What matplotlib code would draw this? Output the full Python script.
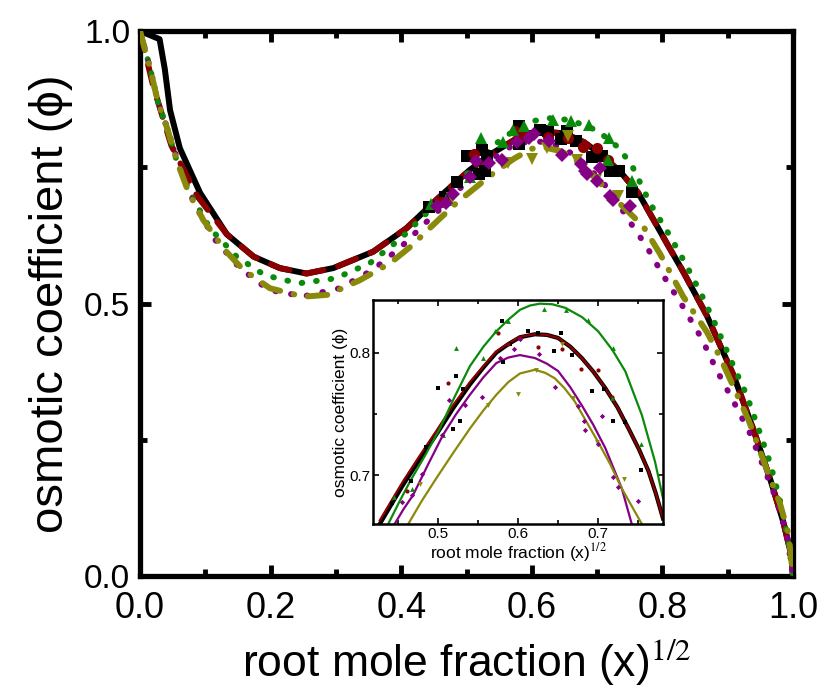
import matplotlib
matplotlib.use("Agg")
import matplotlib.pyplot as plt

plt.rcParams['font.family'] = ['Liberation Sans', 'DejaVu Sans']
plt.rcParams['mathtext.fontset'] = 'stix'
plt.rcParams['lines.scale_dashes'] = False

# ---- main curves ----
black_x = [0, 0.03, 0.038, 0.046, 0.061, 0.092, 0.133, 0.174, 0.214, 0.255, 0.296, 0.357, 0.408,
           0.459, 0.505, 0.54, 0.573, 0.60, 0.621, 0.65, 0.68, 0.709, 0.738, 0.763, 0.807, 0.832,
           0.868, 0.909, 0.939, 0.965, 0.985, 0.998, 1.0]
black_y = [1.0, 0.985, 0.93, 0.855, 0.785, 0.703, 0.627, 0.586, 0.565, 0.555, 0.565, 0.595, 0.638,
           0.696, 0.745, 0.776, 0.800, 0.812, 0.815, 0.812, 0.796, 0.771, 0.738, 0.703, 0.610, 0.558,
           0.478, 0.368, 0.270, 0.178, 0.100, 0.035, 0.0]

red_x = [0, 0.02, 0.048, 0.087, 0.133, 0.174, 0.214, 0.255, 0.296, 0.357, 0.408,
         0.459, 0.505, 0.54, 0.573, 0.60, 0.621, 0.65, 0.68, 0.709, 0.738, 0.763, 0.807, 0.832,
         0.868, 0.909, 0.939, 0.965, 0.985, 0.998, 1.0]
red_y = [1.0, 0.90, 0.79, 0.698, 0.627, 0.586, 0.565, 0.555, 0.565, 0.595, 0.638,
         0.696, 0.745, 0.776, 0.800, 0.812, 0.815, 0.812, 0.796, 0.771, 0.738, 0.703, 0.610, 0.558,
         0.478, 0.368, 0.270, 0.178, 0.100, 0.035, 0.0]

green_x = [0, 0.015, 0.028, 0.041, 0.056, 0.077, 0.107, 0.148, 0.191, 0.243, 0.299, 0.352, 0.40,
           0.439, 0.47, 0.50, 0.54, 0.573, 0.603, 0.628, 0.659, 0.70, 0.734, 0.755, 0.781, 0.809,
           0.835, 0.86, 0.883, 0.906, 0.929, 0.947, 0.965, 0.98, 0.992, 1.0]
green_y = [1.0, 0.934, 0.867, 0.824, 0.763, 0.702, 0.638, 0.586, 0.552, 0.537, 0.546, 0.574, 0.62,
           0.666, 0.70, 0.737, 0.789, 0.8175, 0.835, 0.840, 0.8366, 0.8175, 0.785, 0.749, 0.684, 0.629,
           0.574, 0.516, 0.457, 0.393, 0.332, 0.271, 0.207, 0.139, 0.07, 0.0]

purple_x = [0, 0.015, 0.028, 0.041, 0.064, 0.084, 0.115, 0.153, 0.197, 0.25, 0.306, 0.357, 0.40,
            0.439, 0.469, 0.507, 0.54, 0.573, 0.60, 0.621, 0.65, 0.68, 0.709, 0.73, 0.745, 0.776,
            0.801, 0.83, 0.86, 0.883, 0.909, 0.934, 0.955, 0.975, 0.991, 1.0]
purple_y = [1.0, 0.934, 0.867, 0.824, 0.739, 0.681, 0.617, 0.565, 0.525, 0.513, 0.528, 0.562, 0.604,
            0.650, 0.684, 0.733, 0.766, 0.792, 0.798, 0.796, 0.785, 0.757, 0.722, 0.689, 0.659, 0.604,
            0.552, 0.497, 0.436, 0.378, 0.32, 0.262, 0.20, 0.139, 0.072, 0.0]

olive_x = [0, 0.015, 0.028, 0.041, 0.056, 0.074, 0.097, 0.13, 0.158, 0.199, 0.25, 0.288, 0.337,
           0.383, 0.414, 0.454, 0.485, 0.54, 0.573, 0.60, 0.621, 0.646, 0.671, 0.70, 0.73, 0.755,
           0.771, 0.796, 0.832, 0.868, 0.888, 0.909, 0.932, 0.96, 0.98, 0.993, 0.998, 1.0]
olive_y = [1.0, 0.934, 0.867, 0.824, 0.763, 0.705, 0.653, 0.598, 0.562, 0.528, 0.5125, 0.516, 0.543,
           0.574, 0.604, 0.650, 0.685, 0.738, 0.766, 0.784, 0.786, 0.779, 0.760, 0.727, 0.689, 0.66,
           0.641, 0.592, 0.5125, 0.448, 0.402, 0.347, 0.286, 0.195, 0.133, 0.078, 0.024, 0.0]

# ---- inset fits ----
ins_black_x = [0.4275, 0.442, 0.4566, 0.477, 0.498, 0.519, 0.54, 0.557, 0.573, 0.588, 0.6025, 0.621,
               0.636, 0.65, 0.665, 0.6796, 0.694, 0.709, 0.724, 0.738, 0.751, 0.763, 0.772, 0.781]
ins_black_y = [0.660, 0.676, 0.692, 0.7125, 0.733, 0.7545, 0.774, 0.788, 0.800, 0.807, 0.8126, 0.815,
               0.8145, 0.812, 0.805, 0.7956, 0.7845, 0.771, 0.7555, 0.738, 0.721, 0.703, 0.685, 0.6645]
ins_red_y = [0.663, 0.679, 0.695, 0.7155, 0.736, 0.757, 0.776, 0.789, 0.801, 0.8075, 0.8130, 0.815,
             0.8145, 0.812, 0.805, 0.7956, 0.7845, 0.771, 0.7555, 0.738, 0.721, 0.703, 0.685, 0.6645]

ins_green_x = [0.438, 0.451, 0.465, 0.484, 0.5025, 0.521, 0.54, 0.557, 0.573, 0.588, 0.6025, 0.615,
               0.6275, 0.643, 0.659, 0.68, 0.70, 0.718, 0.734, 0.7546, 0.771, 0.781]
ins_green_y = [0.660, 0.677, 0.6945, 0.716, 0.738, 0.764, 0.789, 0.805, 0.8175, 0.827, 0.835, 0.8385,
               0.840, 0.8395, 0.8366, 0.829, 0.8175, 0.802, 0.7847, 0.749, 0.711, 0.681]

ins_purple_x = [0.446, 0.457, 0.469, 0.488, 0.5066, 0.523, 0.54, 0.557, 0.573, 0.588, 0.6025, 0.621,
                0.636, 0.65, 0.665, 0.6796, 0.694, 0.709, 0.7296, 0.742]
ins_purple_y = [0.66, 0.672, 0.6836, 0.709, 0.733, 0.750, 0.7656, 0.780, 0.7915, 0.796, 0.798, 0.7956,
                0.791, 0.785, 0.772, 0.757, 0.741, 0.722, 0.689, 0.66]

ins_olive_x = [0.463, 0.48, 0.498, 0.519, 0.54, 0.557, 0.573, 0.588, 0.6025, 0.621, 0.634, 0.646,
               0.658, 0.671, 0.685, 0.70, 0.715, 0.7296, 0.7546]
ins_olive_y = [0.66, 0.679, 0.6973, 0.718, 0.738, 0.753, 0.7656, 0.776, 0.783, 0.786, 0.7835, 0.779,
               0.771, 0.760, 0.744, 0.727, 0.709, 0.689, 0.66]

# ---- measured points ----
sq_x = [0.443, 0.467, 0.485, 0.500, 0.519, 0.523, 0.528, 0.531, 0.580, 0.581, 0.590, 0.612, 0.625,
        0.645, 0.654, 0.667, 0.692, 0.707, 0.719, 0.734, 0.753]
sq_y = [0.677, 0.695, 0.723, 0.771, 0.738, 0.781, 0.744, 0.770, 0.826, 0.792, 0.807, 0.818, 0.816,
        0.801, 0.816, 0.798, 0.769, 0.770, 0.744, 0.743, 0.704]
circ_x = [0.461, 0.512, 0.575, 0.588, 0.625, 0.655, 0.679, 0.700, 0.717]
circ_y = [0.687, 0.775, 0.816, 0.807, 0.805, 0.803, 0.787, 0.786, 0.764]
tri_x = [0.445, 0.468, 0.506, 0.5225, 0.556, 0.571, 0.588, 0.632, 0.660, 0.687, 0.718, 0.717, 0.753]
tri_y = [0.682, 0.689, 0.733, 0.804, 0.796, 0.818, 0.826, 0.836, 0.835, 0.827, 0.804, 0.763, 0.725]
dia_x = [0.455, 0.468, 0.480, 0.505, 0.514, 0.534, 0.555, 0.577, 0.595, 0.603, 0.626, 0.646, 0.675,
         0.682, 0.684, 0.700, 0.705, 0.719, 0.725, 0.750]
dia_y = [0.678, 0.684, 0.701, 0.733, 0.761, 0.757, 0.764, 0.796, 0.803, 0.811, 0.799, 0.772, 0.756,
         0.744, 0.737, 0.725, 0.748, 0.698, 0.690, 0.679]
dtri_x = [0.478, 0.563, 0.600, 0.623, 0.655, 0.669, 0.698, 0.732]
dtri_y = [0.693, 0.757, 0.766, 0.786, 0.807, 0.763, 0.727, 0.697]

BLACK = '#000000'
RED = '#8b0000'
GREEN = '#0a8a0a'
PURPLE = '#850085'
OLIVE = '#8a8a0a'

fig = plt.figure(figsize=(8.21, 6.98), dpi=100)
ax = fig.add_axes([140/821, 122/698, 653/821, 545/698])

lw = 4.3
ax.plot(black_x, black_y, color=BLACK, lw=lw, solid_capstyle='round', zorder=2)
ax.plot(red_x, red_y, color=RED, lw=lw, dashes=(14, 11), dash_capstyle='round', zorder=3)
ax.plot(green_x, green_y, color=GREEN, lw=lw, dashes=(0.5, 10), dash_capstyle='round', zorder=3)
ax.plot(purple_x, purple_y, color=PURPLE, lw=lw, dashes=(0.5, 11), dash_capstyle='round', zorder=3)
ax.plot(olive_x, olive_y, color=OLIVE, lw=lw, dashes=(14, 10, 0.5, 10), dash_capstyle='round', zorder=3)

ms = 8
ax.plot(sq_x, sq_y, 's', color=BLACK, ms=ms, mew=0, zorder=4)
ax.plot(circ_x, circ_y, 'o', color=RED, ms=ms, mew=0, zorder=4)
ax.plot(tri_x, tri_y, '^', color=GREEN, ms=ms + 1, mew=0, zorder=4)
ax.plot(dtri_x, dtri_y, 'v', color=OLIVE, ms=ms + 1, mew=0, zorder=4)
ax.plot(dia_x, dia_y, 'D', color=PURPLE, ms=ms - 1, mew=0, zorder=4)

ax.set_xlim(0, 1)
ax.set_ylim(0, 1)
ax.set_xticks([0, 0.2, 0.4, 0.6, 0.8, 1.0])
ax.set_xticks([0.1, 0.3, 0.5, 0.7, 0.9], minor=True)
ax.set_yticks([0, 0.5, 1.0])
ax.set_yticks([0.25, 0.75], minor=True)
ax.set_xticklabels(['0.0', '0.2', '0.4', '0.6', '0.8', '1.0'], fontsize=26)
ax.set_yticklabels(['0.0', '0.5', '1.0'], fontsize=24)
ax.tick_params(which='both', direction='in', top=True, right=True, width=3.5)
ax.tick_params(which='major', length=8)
ax.tick_params(which='minor', length=5)
ax.tick_params(axis='x', pad=11)
ax.tick_params(axis='y', pad=7)
for s in ax.spines.values():
    s.set_linewidth(3.8)

ax.set_xlabel('root mole fraction (x)$^{1/2}$', fontsize=32, labelpad=8)
ax.set_ylabel('osmotic coefficient (\u03d5)', fontsize=34, labelpad=8)

# ---- inset ----
ins = fig.add_axes([373/821, 174/698, 290/821, 224/698])
ins.plot(ins_black_x, ins_black_y, color=BLACK, lw=3)
ins.plot(ins_black_x, ins_red_y, color=RED, lw=1.6)
ins.plot(ins_green_x, ins_green_y, color=GREEN, lw=1.6)
ins.plot(ins_purple_x, ins_purple_y, color=PURPLE, lw=1.6)
ins.plot(ins_olive_x, ins_olive_y, color=OLIVE, lw=1.6)

ms2 = 3
ins.plot(sq_x, sq_y, 's', color=BLACK, ms=ms2, mew=0)
ins.plot(circ_x, circ_y, 'o', color=RED, ms=ms2, mew=0)
ins.plot(tri_x, tri_y, '^', color=GREEN, ms=ms2 + 0.5, mew=0)
ins.plot(dtri_x, dtri_y, 'v', color=OLIVE, ms=ms2 + 0.5, mew=0)
ins.plot(dia_x, dia_y, 'D', color=PURPLE, ms=ms2 - 0.3, mew=0)

ins.set_xlim(0.419, 0.781)
ins.set_ylim(0.66, 0.843)
ins.set_xticks([0.5, 0.6, 0.7])
ins.set_xticks([0.45, 0.55, 0.65, 0.75], minor=True)
ins.set_yticks([0.7, 0.8])
ins.set_yticks([0.75], minor=True)
ins.set_xticklabels(['0.5', '0.6', '0.7'], fontsize=11)
ins.set_yticklabels(['0.7', '0.8'], fontsize=11)
ins.tick_params(which='both', direction='in', top=True, right=True, width=1.2, pad=2)
ins.tick_params(which='major', length=4)
ins.tick_params(which='minor', length=3)
for s in ins.spines.values():
    s.set_linewidth(1.8)
ins.set_xlabel('root mole fraction (x)$^{1/2}$', fontsize=12.5, labelpad=0)
ins.set_ylabel('osmotic coefficient (\u03d5)', fontsize=12.5, labelpad=1)

fig.savefig('out.png', dpi=100)
